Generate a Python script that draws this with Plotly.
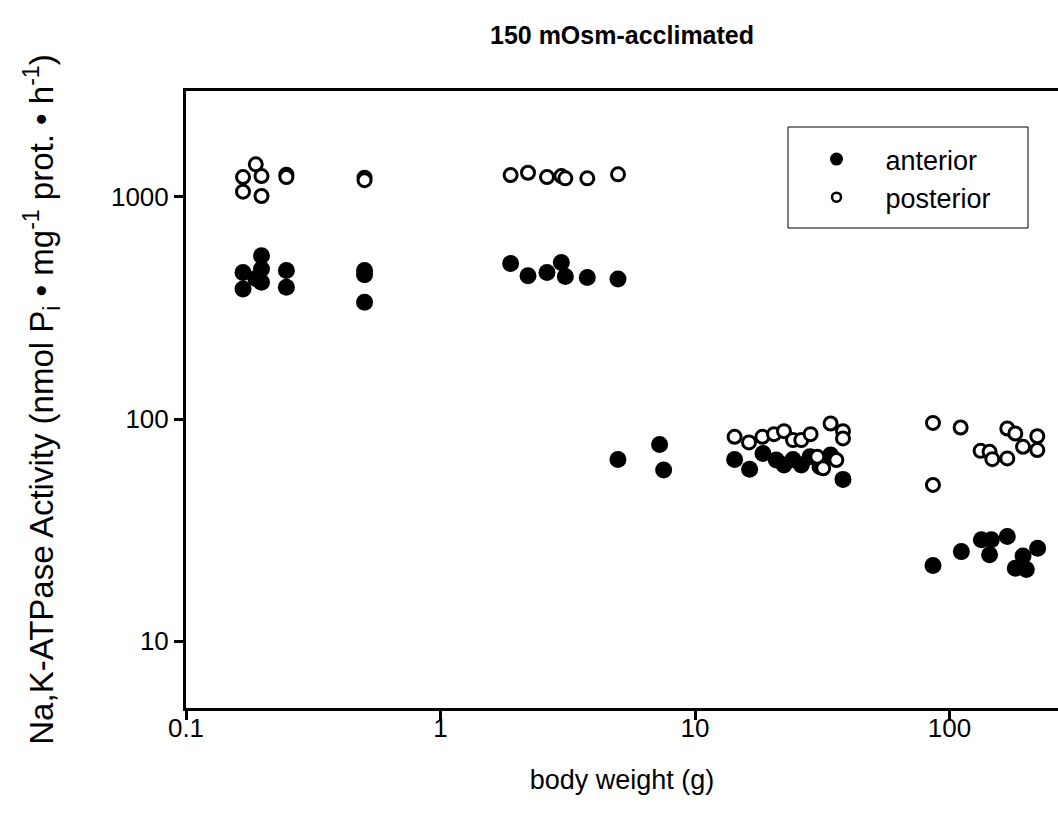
import plotly.graph_objects as go
import math

# ---- data ----
anterior_x = [0.1675, 0.1675, 0.188, 0.198, 0.198, 0.198, 0.248, 0.248,
              0.503, 0.503, 0.503,
              1.886, 2.207, 2.621, 2.984, 3.094, 3.774, 4.983,
              4.98, 7.26, 7.53,
              14.31, 16.39, 18.5, 20.87, 22.37, 24.27, 26.16, 28.3, 31.0, 34.1, 38.15,
              86.1, 111.3, 133.4, 146.0, 143.7, 168.7, 194.5, 222.0, 181.4, 200.4]
anterior_y = [457, 385, 429, 543, 474, 413, 466, 392,
              466, 447, 336,
              502, 442, 457, 507, 438, 434, 427,
              65.8, 76.9, 58.9,
              65.8, 59.4, 70.0, 65.4, 62.1, 65.8, 62.1, 67.6, 61.0, 68.8, 53.5,
              21.9, 25.3, 28.6, 28.6, 24.5, 29.6, 24.2, 26.2, 21.3, 21.0]

posterior_x = [0.1675, 0.1675, 0.188, 0.198, 0.198, 0.248, 0.248, 0.503, 0.503,
               1.886, 2.207, 2.621, 2.984, 3.094, 3.774, 4.983,
               14.31, 16.3, 18.4, 20.44, 22.37, 24.27, 26.16, 28.46, 30.24, 31.9,
               34.1, 35.92, 38.15, 38.15,
               86.1, 86.1, 110.6, 132.5, 143.7, 147.3, 168.7, 168.7, 181.4, 194.5,
               221.3, 221.3]
posterior_y = [1229, 1056, 1402, 1242, 1010, 1260, 1230, 1221, 1190,
               1255, 1285, 1229, 1242, 1213, 1213, 1264,
               83.2, 78.5, 83.2, 85.5, 88.2, 80.4, 80.4, 85.5, 67.6, 60.0,
               95.5, 65.4, 88.2, 81.8,
               96.1, 50.5, 91.6, 71.9, 71.2, 66.0, 90.7, 66.5, 86.1, 75.0,
               83.7, 72.5]

series_names = ["anterior", "posterior"]
x_tickvals = [0.1, 1, 10, 100]
x_ticktext = ["0.1", "1", "10", "100"]
y_tickvals = [10, 100, 1000]
y_ticktext = ["10", "100", "1000"]

FONT = "Liberation Sans, Arial, sans-serif"

fig = go.Figure()
fig.add_trace(go.Scatter(
    x=anterior_x, y=anterior_y, mode="markers", showlegend=False,
    marker=dict(symbol="circle", size=17, color="black", line=dict(width=0))))
fig.add_trace(go.Scatter(
    x=posterior_x, y=posterior_y, mode="markers", showlegend=False,
    marker=dict(symbol="circle", size=13, color="white",
                line=dict(width=3, color="black"))))
# legend entries
fig.add_trace(go.Scatter(
    x=[None], y=[None], mode="markers", name=series_names[0], legendgroup="a",
    marker=dict(symbol="circle", size=13, color="black", line=dict(width=0))))
fig.add_trace(go.Scatter(
    x=[None], y=[None], mode="markers", name=series_names[1], legendgroup="p",
    marker=dict(symbol="circle", size=9, color="white",
                line=dict(width=2.5, color="black"))))

fig.update_layout(
    width=1058, height=828,
    margin=dict(l=186, r=0, t=91, b=120),
    paper_bgcolor="white", plot_bgcolor="white",
    font=dict(family=FONT, color="black", size=26),
    title=dict(text="<b>150 mOsm-acclimated</b>", x=0.5, xref="paper",
               y=1 - 35 / 828, yanchor="middle", font=dict(size=25)),
    xaxis=dict(type="log", range=[-1, -1 + 872 / 254.5],
               tickvals=x_tickvals, ticktext=x_ticktext,
               showline=True, linecolor="black", linewidth=3, mirror=True,
               ticks="outside", ticklen=9, tickwidth=2.5, tickcolor="black",
               ticklabelstandoff=-14,
               showgrid=False, zeroline=False,
               title=dict(text="body weight (g)", font=dict(size=27), standoff=28)),
    yaxis=dict(type="log", range=[math.log10(5), math.log10(3000)],
               tickvals=y_tickvals, ticktext=y_ticktext,
               showline=True, linecolor="black", linewidth=3, mirror=False,
               ticks="outside", ticklen=9, tickwidth=2.5, tickcolor="black",
               showgrid=False, zeroline=False,
               title=dict(text="Na,K-ATPase Activity (nmol P<sub>i</sub> \u2022 mg<sup>-1</sup> prot. \u2022 h<sup>-1</sup>)",
                          font=dict(size=33), standoff=48)),
    legend=dict(x=(787.5 - 186) / 872, xanchor="left", y=(708 - 135) / 617, yanchor="top",
                bgcolor="rgba(0,0,0,0)", borderwidth=0, itemwidth=88,
                traceorder="grouped", tracegroupgap=0,
                font=dict(size=27)),
    shapes=[dict(type="rect", xref="paper", yref="paper",
                 x0=(788 - 186) / 872, x1=(1028 - 186) / 872,
                 y0=(708 - 228) / 617, y1=(708 - 127) / 617,
                 line=dict(color="black", width=1), fillcolor="rgba(0,0,0,0)")],
)

fig.write_html("out.html")
